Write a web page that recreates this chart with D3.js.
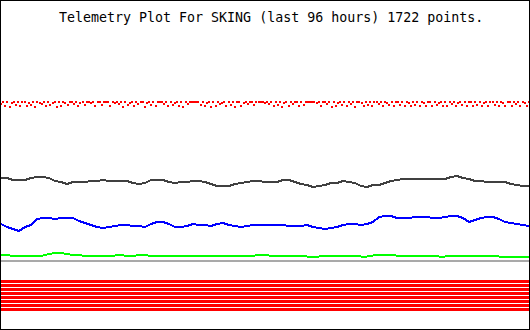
<!DOCTYPE html>
<html>
  <head>
    <meta charset="utf-8">
    <title>Telemetry Plot For SKING</title>
    <script src="https://cdn.jsdelivr.net/npm/d3@7"></script>
    <style>
      body { margin: 0; background: #fff; }
      svg { display: block; }
    </style>
  </head>
  <body>
    <svg id="chart" width="530" height="330"></svg>

    <script>
      // telemetry readings (arbitrary units), evenly spaced over the last 96 hours
      titleText = "Telemetry Plot For SKING (last 96 hours) 1722 points.";
      hours = 96;

      redDots = [
        226,228,224,228,223,227,228,225,228,224,228,228,224,227,225,228,223,228,227,226,
        228,224,228,225,227,228,223,228,224,228,227,225,228,228,226,228,224,227,228,225,
        228,228,227,228,224,228,228,225,228,228,228,224,228,227,228,226,228,223,228,225,
        227,228,224,228,226,228,228,223,227,228,225,228,224,228,228,228,226,228,224,228,
        225,227,228,224,228,223,228,226,228,228,228,228,228,225,228,224,227,228,223,228,
        224,228,226,227,228,224,228,225,228,223,228,228,224,227,228,226,228,228,225,228,
        228,228,228,227,228,226,228,224,228,225,228,223,227,228,224,228,226,228,228,224,
        228,225,228,228,228,228,228,227,228,224,228,228,226,228,223,228,224,227,228,225,
        228,224,228,226,228,223,228,228,227,224,228,225,228,224,228,228,226,228,224,228,
        227,225,228,224,228,228,225,228,224,228,227,224,228,225,228,224,228,227,224,228,
        228,224,228,225,227,228,224,228,224,228,226,228,224,227,228,225,228,224,228,228,
        224,228,225,228,224,227,228,224,228,228,225,228,224,228,227,224,228,228,224,228,
        226,228,224,228,227,224,228
      ];

      darkSeries = [
        152,152,150,150,150,152,153,153,152,149,148,146,148,148,148,149,149,150,149,149,
        149,149,147,146,147,150,150,150,148,147,148,148,149,149,148,146,144,144,144,146,
        147,148,149,149,148,148,148,150,150,148,146,145,143,144,145,147,147,149,148,147,
        144,143,145,145,147,149,150,151,151,151,151,151,151,151,151,153,154,152,151,149,
        149,148,148,148,148,146,145,144,144
      ];

      blueSeries = [
        106,103,101,99,103,105,111,112,112,111,112,112,112,109,107,105,103,102,103,104,
        105,105,104,104,103,106,108,108,106,103,103,104,106,105,105,104,106,107,105,104,
        103,104,105,105,105,105,105,105,104,104,104,105,103,102,101,102,103,105,106,106,
        105,106,108,113,114,114,112,112,112,113,113,113,112,112,113,114,114,112,108,110,
        112,113,113,111,108,107,106,105,104
      ];

      greenSeries = [
        75,75,74,74,74.5,74.5,74,74.5,76,77,77,76,75,75,74,74,74,74,74,74.5,
        75,74,74,75,75,74,74,74,74,74,74,74,74,74,74,74.5,74,74.5,74,74,
        74,74,74,75.5,75.5,74,74,74,74,74,74,73.5,73.5,73.5,74,74,74,74,74,74,
        73.5,73.5,74.5,75,75.3,75.3,74.3,74.3,74.3,74,74.5,74.5,74.5,73.5,73.5,74.3,74.3,74.3,74.3,73.7,
        74.3,74.3,74.3,73.5,73.5,73.5,73.5,73.5,73.5
      ];

      refLevel = [69, 69];

      bandLevels = [48.5, 44.5, 40.5, 36.5, 32.5, 28.5, 24.5, 20.5];

      // page elements
      svg = d3.select("#chart");
      width = 530;
      height = 330;

      x = d3.scaleLinear()
        .domain([0, hours])
        .range([1, width - 1]);
      y = d3.scaleLinear()
        .domain([0, height])
        .range([height, 0]);

      function timeOf(arr) {
        return function(d, i) {
          return x(i * hours / (arr.length - 1));
        };
      }

      function drawLine(arr, colour, thickness) {
        svg.append("path")
          .datum(arr)
          .attr("fill", "none")
          .attr("stroke", colour)
          .attr("stroke-width", thickness)
          .attr("shape-rendering", "crispEdges")
          .attr("d", d3.line()
            .x(timeOf(arr))
            .y(function(d) { return y(d); }));
      }

      // bottom red bands
      bandLevels.forEach(function(level) {
        drawLine([level, level], "#ff0000", 3);
      });

      // reference line, then the series
      drawLine(refLevel, "#a9a9a9", 2);
      drawLine(greenSeries, "#00ff00", 2);
      drawLine(blueSeries, "#0000ff", 2);
      drawLine(darkSeries, "#404040", 2);

      // red scatter
      svg.append("g")
        .attr("shape-rendering", "crispEdges")
        .selectAll("rect")
        .data(redDots)
        .join("rect")
          .attr("x", function(d, i) { return Math.round(timeOf(redDots)(d, i) - 1); })
          .attr("y", function(d) { return Math.round(y(d) - 1); })
          .attr("width", 2)
          .attr("height", 2)
          .attr("fill", "#ff0000");

      // title
      svg.append("text")
        .attr("x", 59)
        .attr("y", 22)
        .attr("font-family", "DejaVu Sans Mono, monospace")
        .attr("font-size", "13.3px")
        .attr("fill", "#000")
        .text(titleText);

      // frame
      svg.append("rect")
        .attr("x", 0.5)
        .attr("y", 0.5)
        .attr("width", width - 1)
        .attr("height", height - 1)
        .attr("fill", "none")
        .attr("stroke", "#000")
        .attr("shape-rendering", "crispEdges");
    </script>
  </body>
</html>
